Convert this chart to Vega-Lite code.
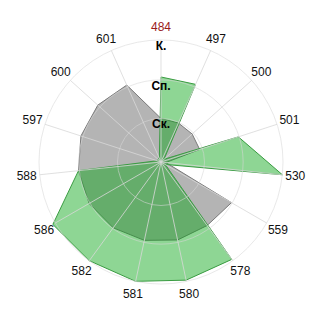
{
  "$schema": "https://vega.github.io/schema/vega-lite/v6.json",
  "width": 320,
  "height": 320,
  "autosize": "none",
  "padding": {"left": 1, "top": 2, "right": 0, "bottom": 0},
  "config": {"view": {"stroke": null}, "font": "Liberation Sans"},
  "datasets": {
    "pts": [
      {"cat": "484", "gray": 1.07, "green": 2.09},
      {"cat": "497", "gray": 1.05, "green": 2.09},
      {"cat": "500", "gray": 1.03, "green": 0.1},
      {"cat": "501", "gray": 1.0, "green": 2.0},
      {"cat": "530", "gray": 0.12, "green": 3.0},
      {"cat": "559", "gray": 2.0, "green": 0.12},
      {"cat": "578", "gray": 1.93, "green": 2.96},
      {"cat": "580", "gray": 1.96, "green": 2.97},
      {"cat": "581", "gray": 1.97, "green": 3.0},
      {"cat": "582", "gray": 2.0, "green": 3.0},
      {"cat": "586", "gray": 2.04, "green": 3.07},
      {"cat": "588", "gray": 2.04, "green": 2.04},
      {"cat": "597", "gray": 2.07, "green": 0.1},
      {"cat": "600", "gray": 2.09, "green": 0.1},
      {"cat": "601", "gray": 2.07, "green": 0.1}
    ],
    "rings": [
      {"lvl": "Ск.", "r": 1.07},
      {"lvl": "Сп.", "r": 2.02},
      {"lvl": "К.", "r": 3.0}
    ]
  },
  "layer": [
    {
      "data": {"name": "pts"},
      "transform": [
        {"window": [{"op": "row_number", "as": "idx"}]},
        {"calculate": "(datum.idx - 1) * 2 * PI / 15", "as": "ang"},
        {"calculate": "datum.gray * sin(datum.ang)", "as": "gx"},
        {"calculate": "datum.gray * cos(datum.ang)", "as": "gy"},
        {"calculate": "datum.green * sin(datum.ang)", "as": "nx"},
        {"calculate": "datum.green * cos(datum.ang)", "as": "ny"}
      ],
      "layer": [
        {
          "mark": {"type": "line", "interpolate": "linear-closed", "fill": "#b4b4b4", "stroke": "#7a7a7a", "strokeWidth": 1},
          "encoding": {
            "x": {"field": "gx", "type": "quantitative", "scale": {"domain": [-3.934, 3.934], "nice": false, "zero": false}, "axis": null},
            "y": {"field": "gy", "type": "quantitative", "scale": {"domain": [-3.934, 3.934], "nice": false, "zero": false}, "axis": null},
            "order": {"field": "idx", "type": "quantitative"}
          }
        },
        {
          "mark": {"type": "line", "interpolate": "linear-closed", "fill": "#04a412", "fillOpacity": 0.45, "stroke": "#3a9c42", "strokeWidth": 1},
          "encoding": {
            "x": {"field": "nx", "type": "quantitative", "axis": null},
            "y": {"field": "ny", "type": "quantitative", "axis": null},
            "order": {"field": "idx", "type": "quantitative"}
          }
        }
      ]
    },
    {
      "data": {"name": "rings"},
      "transform": [{"calculate": "0", "as": "c"}],
      "mark": {"type": "point", "shape": "circle", "filled": false, "stroke": "#d8d8d8", "strokeOpacity": 0.8, "strokeWidth": 1},
      "encoding": {
        "x": {"field": "c", "type": "quantitative", "axis": null},
        "y": {"field": "c", "type": "quantitative", "axis": null},
        "size": {"field": "r", "type": "quantitative", "scale": {"type": "pow", "exponent": 2, "domain": [0, 3], "range": [0, 59536]}, "legend": null}
      }
    },
    {
      "data": {"name": "pts"},
      "transform": [
        {"window": [{"op": "row_number", "as": "idx"}]},
        {"calculate": "(datum.idx - 1) * 2 * PI / 15", "as": "ang"},
        {"calculate": "0", "as": "c"},
        {"calculate": "3 * sin(datum.ang)", "as": "ox"},
        {"calculate": "3 * cos(datum.ang)", "as": "oy"},
        {"calculate": "3.32 * sin(datum.ang)", "as": "lx"},
        {"calculate": "3.32 * cos(datum.ang)", "as": "ly"}
      ],
      "layer": [
        {
          "mark": {"type": "rule", "stroke": "#d8d8d8", "strokeOpacity": 0.8, "strokeWidth": 1},
          "encoding": {
            "x": {"field": "c", "type": "quantitative", "axis": null},
            "y": {"field": "c", "type": "quantitative", "axis": null},
            "x2": {"field": "ox"},
            "y2": {"field": "oy"}
          }
        },
        {
          "mark": {"type": "text", "fontSize": 12, "align": "center", "baseline": "middle"},
          "encoding": {
            "x": {"field": "lx", "type": "quantitative", "axis": null},
            "y": {"field": "ly", "type": "quantitative", "axis": null},
            "text": {"field": "cat", "type": "nominal"},
            "color": {"condition": {"test": "datum.cat === '484'", "value": "#9a1b1b"}, "value": "#111111"}
          }
        }
      ]
    },
    {
      "data": {"name": "rings"},
      "transform": [{"calculate": "0", "as": "c"}],
      "mark": {"type": "text", "fontSize": 12, "fontWeight": "bold", "align": "center", "baseline": "top", "dy": 1, "color": "#000000"},
      "encoding": {
        "x": {"field": "c", "type": "quantitative", "axis": null},
        "y": {"field": "r", "type": "quantitative", "axis": null},
        "text": {"field": "lvl", "type": "nominal"}
      }
    }
  ]
}
